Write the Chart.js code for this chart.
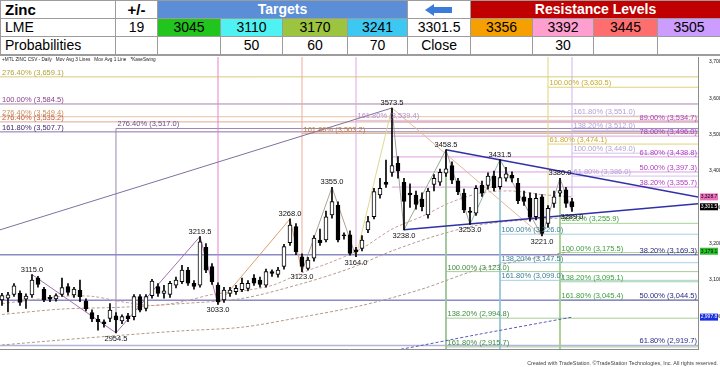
<!DOCTYPE html>
<html>
<head>
<meta charset="utf-8">
<script src="https://cdn.jsdelivr.net/npm/chart.js@4.4.1/dist/chart.umd.min.js"></script>
<style>
  html, body { margin: 0; padding: 0; background: #fff; width: 720px; height: 367px; overflow: hidden;
    font-family: "Liberation Sans", Arial, sans-serif; }
  #tbl { position: absolute; left: 0; top: 0; width: 720px; border-collapse: collapse; table-layout: fixed; }
  #tbl tr { height: 18px; }
  #tbl td { border: 1px solid #9c9c9c; height: 17px; padding: 0; font-size: 14px; line-height: 17px;
    text-align: center; white-space: nowrap; overflow: hidden; color: #000; }
  #tbl td.l { text-align: left; padding-left: 4px; }
  #tbl td.b { font-weight: bold; font-size: 15px; }
  #tbl td.tg { background: #5b8ed6; color: #fff; font-weight: bold; }
  #tbl td.rs { background: #c00000; color: #fff; font-weight: bold; }
  #wrap { position: absolute; left: 0; top: 55px; width: 720px; height: 312px; border-top: 1px solid #9c9c9c; box-sizing: border-box; }
</style>
</head>
<body>
<table id="tbl"></table>
<div id="wrap"><canvas id="zincChart" width="720" height="311"></canvas></div>
<script>
// table values
const targetVals = ["3045", "3110", "3170", "3241"];
const targetColors = ["#22c41e", "#4ff2f2", "#9cc43e", "#3cc8f0"];
const targetProb = ["", "50", "60", "70"];
const resistVals = ["3356", "3392", "3445", "3505"];
const resistColors = ["#f5a000", "#ff9fcf", "#ff6e6e", "#cc9cff"];
const resistProb = ["", "30", "", ""];
const lastClose = "3301.5";

// candles (trading days from 27 Oct)
const openVals = [3045,3050,3060,3063,3047,3059,3105,3074,3052,3048,3060,3082,3059,3072,3042,3010,2992,2985,2994,3001,
  2987,3001,2999,3054,3022,3057,3082,3063,3060,3086,3095,3127,3091,3086,3190,3137,3086,3045,3063,3068,
  3073,3077,3105,3100,3086,3123,3115,3137,3203,3247,3164,3132,3160,3210,3210,3279,3306,3224,3224,3183,
  3187,3238,3274,3334,3369,3396,3421,3369,3339,3334,3323,3279,3363,3369,3394,3415,3373,3339,3290,3284,
  3361,3360,3386,3357,3380,3389,3366,3329,3325,3274,3329,3256,3311,3339,3348,3316];
const highVals = [3063,3066,3090,3070,3062,3115,3110,3080,3058,3062,3105,3090,3080,3100,3048,3018,3003,2990,3035,3010,
  3004,3008,3060,3060,3060,3102,3090,3085,3096,3108,3140,3135,3098,3219.5,3200,3145,3092,3080,3080,3085,
  3105,3098,3115,3108,3130,3128,3135,3198,3268,3255,3172,3162,3222,3240,3290,3355,3315,3230,3235,3190,
  3222,3275,3352,3380,3430,3573.5,3440,3380,3365,3345,3340,3352,3390,3405,3458.5,3425,3380,3350,3300,3360,
  3372,3395,3400,3431.5,3410,3398,3380,3345,3340,3338,3335,3305,3345,3380,3355,3325];
const lowVals = [3030,3012,3055,3030,3022,3052,3080,3040,3040,3042,3055,3058,3052,3040,3015,2985,2962,2970,2985,2954.5,
  2980,2985,2990,3012,3015,3050,3055,3050,3052,3078,3090,3085,3075,3080,3120,3088,3033,3038,3055,3060,
  3068,3070,3085,3080,3080,3110,3108,3130,3195,3170,3123,3128,3152,3195,3205,3270,3205,3212,3168,3164,
  3180,3230,3268,3325,3355,3385,3380,3238,3300,3295,3290,3270,3345,3360,3385,3365,3335,3285,3253,3278,
  3330,3350,3345,3350,3372,3370,3310,3305,3262,3265,3221,3245,3300,3330,3300,3289];
const closeVals = [3057,3059,3084,3038,3056,3100,3088,3045,3047,3057,3079,3066,3075,3054,3020,2993,2985,2979,3017,2990,
  2999,2993,3054,3017,3054,3097,3063,3070,3091,3100,3127,3091,3082,3205,3127,3095,3040,3072,3072,3077,
  3091,3091,3091,3088,3123,3118,3127,3192,3251,3178,3137,3155,3215,3203,3274,3316,3210,3221,3173,3178,
  3210,3261,3343,3352,3363,3415,3400,3316,3334,3308,3302,3345,3380,3396,3406,3375,3343,3293,3286,3352,
  3339,3386,3354,3382,3392,3380,3318,3316,3272,3325,3228,3297,3329,3346,3311,3301.5];

// date axis
const xTickIdx = [5,10,15,20,25,30,35,40,43,46,47,52,57,62,67,72,77,82,87,92,97];
const xTickText = ["Nov","10","17","24","Dec","8","15","22","29","26","5","12","19","26","Feb","9","16","23","Mar","9","16"];
const yTickVals = [3000,3100,3200,3300,3400,3500,3600,3700];

// swing points (KaseSwing)
const swingIdx = [5,19,33,36,48,50,55,59,65,67,74,78,83,90,93,95];
const swingVals = [3115.0,2954.5,3219.5,3033.0,3268.0,3123.0,3355.0,3164.0,3573.5,3238.0,3458.5,3253.0,3431.5,3221.0,3380.0,3289.0];

// moving averages, read every few bars
const maFastIdx = [0,5,10,15,20,25,30,35,40,45,50,55,60,65,70,75,80,85,90,95];
const maFastVals = [3035,3045,3055,3055,3040,3030,3040,3060,3070,3085,3120,3150,3187,3240,3275,3315,3340,3345,3335,3328.7];
const maMidIdx = [0,10,20,30,40,50,58,65,72,79,87,95];
const maMidVals = [3005,3020,3025,3035,3049,3090,3132,3180,3220,3250,3265,3272];
const maSlowIdx = [0,10,20,30,40,50,60,70,79,87,95];
const maSlowVals = [2921,2935,2948,2960,2970,2998,3030,3075,3127,3155,3179.1];
const maLongIdx = [55,66,79,95];
const maLongVals = [2880,2908,2949,2997.8];

// trend lines
const trendUpIdx = [74, 116], trendUpVals = [3458.5, 3328.7];
const trendLowIdx = [67, 116], trendLowVals = [3238.0, 3310.0];
const longLineIdx = [-0.33, 65], longLineVals = [3238.0, 3573.5];
const retrLineIdx = [65, 90], retrLineVals = [3573.5, 3221.0];

// fibonacci levels
const fibLeftPct = ["276.40%","100.00%","276.40%","276.40%","161.80%"];
const fibLeftVals = [3659.1, 3584.5, 3549.4, 3535.2, 3507.7];
const fibA19Pct = ["276.40%"], fibA19Vals = [3517.0];
const fibA50Pct = ["161.80%"], fibA50Vals = [3503.2];
const fibA59Pct = ["161.80%"], fibA59Vals = [3539.4];
const fibRetPct = ["89.00%","78.00%","61.80%","50.00%","38.20%"];
const fibRetVals = [3534.7, 3496.0, 3438.8, 3397.3, 3355.7];
const fibBigPct = ["38.20%","50.00%","61.80%"];
const fibBigVals = [3169.3, 3044.5, 2919.7];
const fibA74Pct = ["100.00%","138.20%","161.80%"], fibA74Vals = [3123.0, 2994.8, 2915.7];
const fibA83Pct = ["100.00%","138.20%","161.80%"], fibA83Vals = [3226.0, 3147.5, 3099.0];
const fibA91Pct = ["100.00%","61.80%"], fibA91Vals = [3630.5, 3474.1];
const fibA93Pct = ["38.20%","100.00%","138.20%","161.80%"], fibA93Vals = [3255.9, 3175.5, 3095.1, 3045.4];
const fibA95Pct = ["161.80%","138.20%","100.00%","61.80%"], fibA95Vals = [3551.0, 3512.0, 3449.0, 3386.0];

const X_MIN = -0.33, X_MAX = 116, Y_MIN = 2910, Y_MAX = 3713.8;

// build table
const tbl = document.getElementById("tbl");
const widths = [115,42,63,62,65,60,63,62,61,64,63];
let html = "<colgroup>" + widths.map(w => `<col style="width:${w}px">`).join("") + "</colgroup>";
html += `<tr><td class="l b">Zinc</td><td class="b">+/-</td><td colspan="4" class="tg">Targets</td>` +
  `<td><svg width="30" height="14" viewBox="0 0 30 14" style="vertical-align:middle">` +
  `<polygon points="1,7 10,1 10,4 28,4 28,10 10,10 10,13" fill="#3b7bd9"/></svg></td>` +
  `<td colspan="4" class="rs">Resistance Levels</td></tr>`;
html += `<tr><td class="l">LME</td><td>19</td>` +
  targetVals.map((v, i) => `<td style="background:${targetColors[i]}">${v}</td>`).join("") +
  `<td>${lastClose}</td>` +
  resistVals.map((v, i) => `<td style="background:${resistColors[i]}">${v}</td>`).join("") + `</tr>`;
html += `<tr><td class="l">Probabilities</td><td></td>` +
  targetProb.map(v => `<td>${v}</td>`).join("") + `<td>Close</td>` +
  resistProb.map(v => `<td>${v}</td>`).join("") + `</tr>`;
tbl.innerHTML = html;

const fmt = v => v.toLocaleString("en-US", { minimumFractionDigits: 1, maximumFractionDigits: 1 });
const pts = (idx, vals) => idx.map((x, i) => ({ x: x, y: vals[i] }));

// fib groups: anchor bar, label side, colours
const fibGroups = [
  { pct: fibLeftPct, vals: fibLeftVals, from: X_MIN, side: "left",
    text: ["#b3a23a","#8a3f8a","#c8905a","#c45a3a","#3c2a6a"], line: ["#d8ca7a","#a884a8","#e2c4a4","#e0a890","#8a74a6"] },
  { pct: fibA19Pct, vals: fibA19Vals, from: 19, text: ["#6e4a86"], line: ["#9a88b0"], vFrom: 2954.5, vTo: 3517.0, vColor: "#9a88b0" },
  { pct: fibA50Pct, vals: fibA50Vals, from: 50, text: ["#c07a40"], line: ["#e8b890"], vFrom: 3123.0, vTo: Y_MAX, vColor: "#f0aa98" },
  { pct: fibA59Pct, vals: fibA59Vals, from: 59, text: ["#b48ed0"], line: ["#d8c0e8"], vFrom: 3164.0, vTo: Y_MAX, vColor: "#dca8e0" },
  { pct: fibRetPct, vals: fibRetVals, from: 65, side: "right",
    text: ["#b03cc0","#b03cc0","#b03cc0","#b03cc0","#b03cc0"], line: ["#dca0e0","#dca0e0","#dca0e0","#dca0e0","#dca0e0"] },
  { pct: fibBigPct, vals: fibBigVals, from: X_MIN, side: "right", width: 1.5,
    text: ["#2a2a80","#2a2a80","#2a2a80"], line: ["#8a8ac4","#8a8ac4","#b4b4da"] },
  { pct: fibA74Pct, vals: fibA74Vals, from: 74, text: ["#3c8c3c","#3c8c3c","#3c8c3c"], line: ["#a8cc98","#a8cc98","#a8cc98"],
    vFrom: 3458.5, vTo: Y_MIN, vColor: "#98c090" },
  { pct: fibA83Pct, vals: fibA83Vals, from: 83, text: ["#3a7e98","#3a7e98","#3a7e98"], line: ["#a8d0e0","#a8d0e0","#a8d0e0"],
    vFrom: 3431.5, vTo: Y_MIN, vColor: "#90c4d4" },
  { pct: fibA91Pct, vals: fibA91Vals, from: 91, text: ["#c4aa2a","#c4aa2a"], line: ["#e4d27a","#e4d27a"],
    vFrom: 3245.0, vTo: Y_MAX, vColor: "#e4d27a" },
  { pct: fibA93Pct, vals: fibA93Vals, from: 93, text: ["#3c9c3c","#3c9c3c","#3c9c3c","#3c9c3c"], line: ["#a8d498","#a8d498","#a8d498","#a8d498"],
    vFrom: 3380.0, vTo: Y_MIN, vColor: "#a0cc88" },
  { pct: fibA95Pct, vals: fibA95Vals, from: 95, text: ["#b4a0d8","#b4a0d8","#b4a0d8","#b4a0d8"], line: ["#d4c4ec","#d4c4ec","#d4c4ec","#d4c4ec"],
    vFrom: 3289.0, vTo: Y_MAX, vColor: "#ccb8e8" },
  { pct: [], vals: [], from: 36, text: [], line: [], vFrom: 3033.0, vTo: Y_MAX, vColor: "#e882cc" }
];

const datasets = [];
fibGroups.forEach(g => {
  g.vals.forEach((v, k) => {
    datasets.push({ type: "line", data: [{ x: g.from, y: v }, { x: X_MAX, y: v }],
      borderColor: g.line[k], borderWidth: g.width || 1, pointRadius: 0, order: 20 });
  });
  if (g.vFrom !== undefined) {
    datasets.push({ type: "line", data: [{ x: g.from, y: g.vFrom }, { x: g.from, y: g.vTo }],
      borderColor: g.vColor, borderWidth: 1, pointRadius: 0, order: 19 });
  }
});

const maLine = (idx, vals, color) => ({ type: "line", data: pts(idx, vals), borderColor: color, borderWidth: 1,
  borderDash: [3, 2], pointRadius: 0, spanGaps: true, tension: 0.3, order: 12 });
datasets.push(maLine(maFastIdx, maFastVals, "#cc9c9c"));
datasets.push(maLine(maMidIdx, maMidVals, "#b89a8c"));
datasets.push(maLine(maSlowIdx, maSlowVals, "#b0988a"));
datasets.push(maLine(maLongIdx, maLongVals, "#5a5ab4"));

const segColors = ["#a070b0","#a070b0","#c070b0","#d8a070","#d8a070","#b0a090","#b0a090","#e0d890",
  "#a0a0a0","#90b090","#a0a0a0","#90b8a0","#a0a0a0","#a0a0a0","#a0a0a0"];
datasets.push({ type: "line", data: pts(swingIdx, swingVals), borderWidth: 1, pointRadius: 0, order: 10,
  borderColor: "#a0a0a0", segment: { borderColor: c => segColors[c.p0DataIndex] } });
datasets.push({ type: "line", data: pts(longLineIdx, longLineVals), borderColor: "#8070a0", borderWidth: 1, pointRadius: 0, order: 11 });
datasets.push({ type: "line", data: pts(retrLineIdx, retrLineVals), borderColor: "#e4b896", borderWidth: 1, pointRadius: 0, order: 11 });
datasets.push({ type: "line", data: pts(trendUpIdx, trendUpVals), borderColor: "#3030a8", borderWidth: 1.5, pointRadius: 0, order: 4 });
datasets.push({ type: "line", data: pts(trendLowIdx, trendLowVals), borderColor: "#3030a8", borderWidth: 1.5, pointRadius: 0, order: 4 });

// candles: wick + body as floating bars
datasets.push({ type: "bar", data: highVals.map((h, i) => ({ x: i, y: [lowVals[i], h] })),
  backgroundColor: "#000", barThickness: 1, grouped: false, order: 3 });
datasets.push({ type: "bar", data: openVals.map((o, i) => ({ x: i, y: [o, closeVals[i]] })),
  backgroundColor: closeVals.map((c, i) => c > openVals[i] ? "#fff" : "#000"),
  borderColor: "#000", borderWidth: 1, borderSkipped: false, barThickness: 4, minBarLength: 1, grouped: false, order: 2 });

const overlay = {
  id: "overlay",
  afterDatasetsDraw(chart) {
    const { ctx, chartArea: a, scales: { x: xs, y: ys } } = chart;
    ctx.save();
    // fib labels
    ctx.font = "7.5px 'Liberation Sans', Arial";
    ctx.textBaseline = "alphabetic";
    fibGroups.forEach(g => {
      g.vals.forEach((v, k) => {
        const y = ys.getPixelForValue(v) - 2;
        const t = g.pct[k] + " (" + fmt(v) + ")";
        ctx.fillStyle = g.text[k];
        if (g.side === "right") { ctx.textAlign = "right"; ctx.fillText(t, a.right - 1, y); }
        else { ctx.textAlign = "left"; ctx.fillText(t, (g.side === "left" ? a.left + 2 : xs.getPixelForValue(g.from) + 1.5), y); }
      });
    });
    // swing labels
    ctx.fillStyle = "#111";
    ctx.textAlign = "center";
    swingVals.forEach((v, i) => {
      const prev = swingVals[i - 1], next = swingVals[i + 1];
      const isHigh = (prev === undefined || v > prev) && (next === undefined || v > next);
      const x = xs.getPixelForValue(swingIdx[i]);
      const y = ys.getPixelForValue(v);
      if (isHigh) { ctx.textBaseline = "alphabetic"; ctx.fillText(v.toFixed(1), x, y - 3); }
      else { ctx.textBaseline = "top"; ctx.fillText(v.toFixed(1), x, y + 2); }
    });
    // title
    ctx.textAlign = "left"; ctx.textBaseline = "top";
    ctx.fillStyle = "#222"; ctx.font = "4.7px 'Liberation Sans', Arial";
    ctx.fillText("+MTL ZINC CSV - Daily   Mov Avg 3 Lines   Mov Avg 1 Line   *KaseSwing", a.left + 2, a.top);
    // value boxes on the price axis
    const boxes = [
      { v: maFastVals[maFastVals.length - 1], bg: "#f070c0", fg: "#000" },
      { v: closeVals[closeVals.length - 1], bg: "#000", fg: "#fff" },
      { v: maSlowVals[maSlowVals.length - 1], bg: "#2cc02c", fg: "#000" },
      { v: maLongVals[maLongVals.length - 1], bg: "#1a2ee0", fg: "#fff" }
    ];
    ctx.font = "5px 'Liberation Sans', Arial"; ctx.textBaseline = "middle"; ctx.textAlign = "center";
    boxes.forEach(b => {
      const y = ys.getPixelForValue(b.v);
      ctx.fillStyle = b.bg; ctx.fillRect(a.right + 2, y - 3.5, 18, 7);
      ctx.fillStyle = b.fg; ctx.fillText(fmt(b.v), a.right + 11, y);
    });
    // footer
    ctx.textAlign = "right"; ctx.textBaseline = "alphabetic";
    ctx.fillStyle = "#444"; ctx.font = "5.4px 'Liberation Sans', Arial";
    ctx.fillText("Created with TradeStation. \u00A9TradeStation Technologies, Inc. All rights reserved.", 718, chart.height - 2);
    ctx.restore();
  }
};

new Chart(document.getElementById("zincChart"), {
  type: "bar",
  data: { datasets: datasets },
  options: {
    responsive: false,
    animation: false,
    devicePixelRatio: 1,
    layout: { padding: { top: 1, bottom: 9, left: 0, right: 0 } },
    plugins: { legend: { display: false }, tooltip: { enabled: false } },
    scales: {
      x: {
        type: "linear", min: X_MIN, max: X_MAX, offset: false,
        grid: { display: false },
        border: { display: true, color: "#8c8c8c" },
        ticks: { font: { size: 5 }, color: "#111", padding: 2, autoSkip: false, maxRotation: 0,
          callback: v => { const k = xTickIdx.indexOf(v); return k < 0 ? "" : xTickText[k]; } },
        afterBuildTicks: s => { s.ticks = xTickIdx.map(v => ({ value: v })); },
        afterFit: s => { s.height = 9; s.paddingLeft = 0; s.paddingRight = 0; }
      },
      y: {
        position: "right", min: Y_MIN, max: Y_MAX,
        grid: { display: false },
        border: { display: true, color: "#8c8c8c" },
        ticks: { font: { size: 5 }, color: "#111", padding: 3, callback: v => fmt(v) },
        afterBuildTicks: s => { s.ticks = yTickVals.map(v => ({ value: v })); },
        afterFit: s => { s.width = 22; s.paddingTop = 0; s.paddingBottom = 0; }
      }
    }
  },
  plugins: [overlay]
});
</script>
</body>
</html>
